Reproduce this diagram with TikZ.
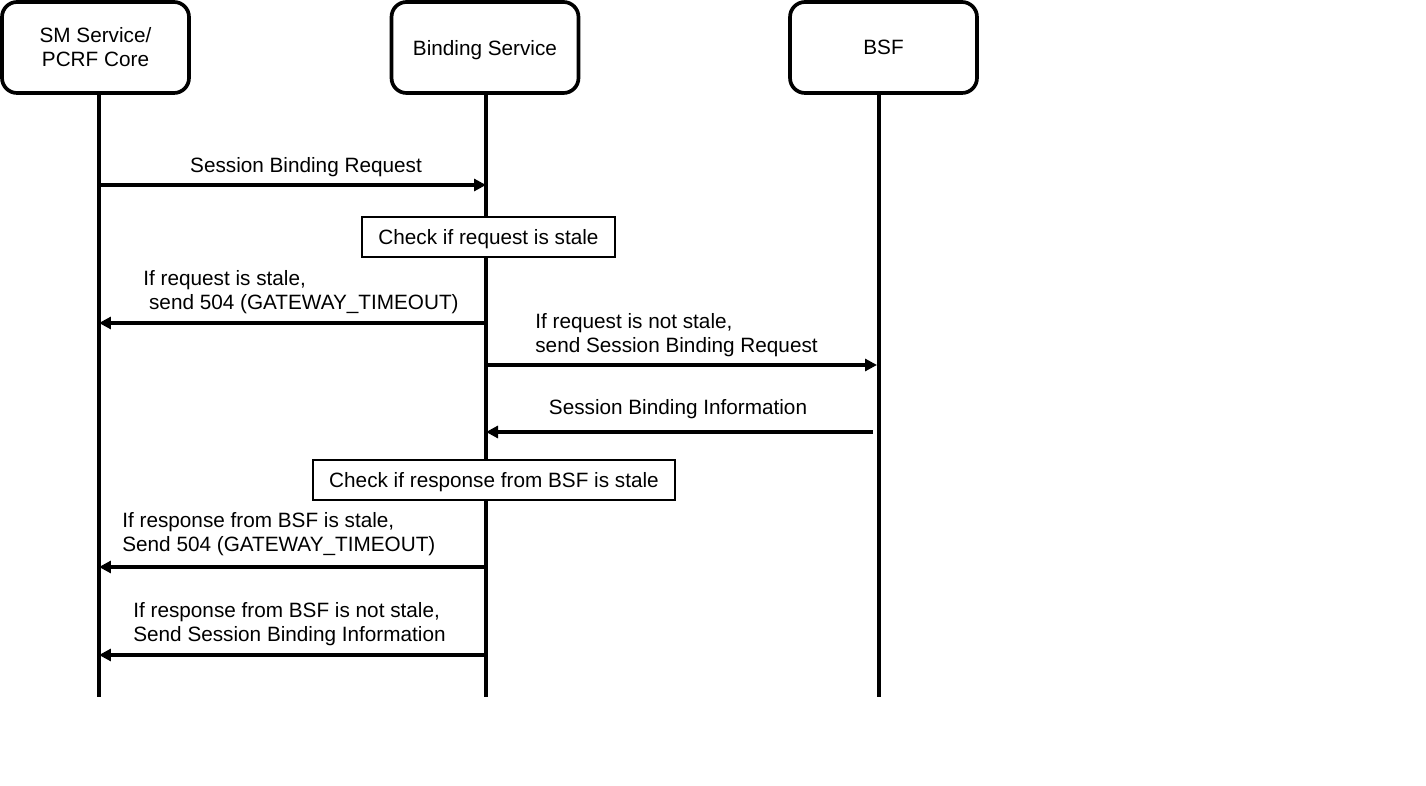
\documentclass[tikz,border=0pt]{standalone}
\usepackage{fontspec}
\setmainfont{Liberation Sans}
\usetikzlibrary{arrows.meta, positioning}

\begin{document}
\begin{tikzpicture}[
    x=0.02cm, y=-0.02cm,
    font=\fontsize{11.8}{13.6}\selectfont,
    actor/.style={
        rectangle,
        rounded corners=0.3cm,
        draw=black,
        line width=2.1pt,
        minimum width=3.74cm,
        minimum height=1.82cm,
        align=center
    },
    lifeline/.style={
        line width=2.1pt
    },
    check/.style={
        rectangle,
        draw=black,
        fill=white,
        line width=1pt,
        text depth=0pt,
        minimum height=0.8cm
    },
    msg/.style={
        -{Triangle[length=0.24cm, width=0.24cm]},
        line width=2.3pt
    },
    label/.style={
        inner sep=0pt,
        align=left,
        anchor=west
    }
]

% Canvas
\useasboundingbox (0,0) rectangle (1426,786);

% Actors
\node[actor] (sm) at (95.5,47.5) {SM Service/\\PCRF Core};
\node[actor, text depth=0pt] (bind) at (485,47.5) {Binding Service};
\node[actor] (bsf) at (883.5,47.5) {BSF};

% Lifelines
\coordinate (smtop) at (99,93);
\coordinate (smbot) at (99,697);
\coordinate (bindtop) at (486,93);
\coordinate (bindbot) at (486,697);
\coordinate (bsftop) at (879,93);
\coordinate (bsfbot) at (879,697);
\draw[lifeline] (smtop) -- (smbot);
\draw[lifeline] (bindtop) -- (bindbot);
\draw[lifeline] (bsftop) -- (bsfbot);

% Message end points
\coordinate (sm1) at (99,185);
\coordinate (bind1) at (486,185);
\coordinate (bind2) at (486,323);
\coordinate (sm2) at (99,323);
\coordinate (bind3) at (488,365);
\coordinate (bsf3) at (877,365);
\coordinate (bsf4) at (873,432);
\coordinate (bind4) at (486,432);
\coordinate (bind5) at (486,567);
\coordinate (sm5) at (99,567);
\coordinate (bind6) at (486,655);
\coordinate (sm6) at (99,655);

% Checks
\node[check, minimum width=5.06cm] (check1) at (488.5,237) {Check if request is stale};
\node[check, minimum width=7.24cm] (check2) at (494,480) {Check if response from BSF is stale};

% Messages
\draw[msg] (sm1) -- (bind1);
\draw[msg] (bind2) -- (sm2);
\draw[msg] (bind3) -- (bsf3);
\draw[msg] (bsf4) -- (bind4);
\draw[msg] (bind5) -- (sm5);
\draw[msg] (bind6) -- (sm6);

% Labels
\node (lbl1) at (306,167) {Session Binding Request};
\node[label] (lbl2) at (143,292) {If request is stale,\\\ send 504 (GATEWAY\_TIMEOUT)};
\node[label] (lbl3) at (535,335.5) {If request is not stale,\\send Session Binding Request};
\node (lbl4) at (678,409) {Session Binding Information};
\node[label] (lbl5) at (122,534.5) {If response from BSF is stale,\\Send 504 (GATEWAY\_TIMEOUT)};
\node[label] (lbl6) at (133,624.5) {If response from BSF is not stale,\\Send Session Binding Information};

\end{tikzpicture}
\end{document}
